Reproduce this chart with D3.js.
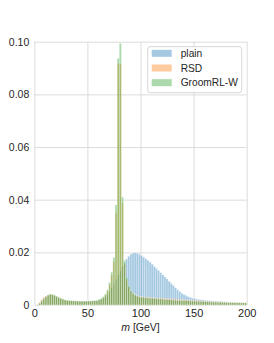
<!DOCTYPE html>
<html>
<head>
<meta charset="utf-8">
<script src="https://cdn.jsdelivr.net/npm/d3@7"></script>
<style>
  html, body { margin: 0; padding: 0; background: #fff; }
  svg text { font-family: "Liberation Sans", Arial, sans-serif; }
</style>
</head>
<body>
<div id="chart"></div>
<script>
// bin edges: 0..200 GeV in 2 GeV steps (100 bins)
var binWidth = 2;

var plain = [
  0.0000, 0.0002, 0.0008, 0.0018, 0.0027, 0.0033, 0.0037, 0.0039, 0.0038, 0.0035,
  0.0031, 0.0027, 0.0024, 0.0021, 0.0019, 0.0017, 0.0016, 0.0016, 0.0015, 0.0015,
  0.0015, 0.0015, 0.0014, 0.0014, 0.0015, 0.0015, 0.0015, 0.0016, 0.0016, 0.0017,
  0.0018, 0.0021, 0.0025, 0.0031, 0.0040, 0.0052, 0.0066, 0.0082, 0.0098, 0.0115,
  0.0130, 0.0146, 0.0160, 0.0175, 0.0185, 0.0193, 0.0197, 0.0198, 0.0197, 0.0193,
  0.0188, 0.0182, 0.0176, 0.0170, 0.0163, 0.0155, 0.0147, 0.0139, 0.0131, 0.0123,
  0.0115, 0.0107, 0.0099, 0.0090, 0.0082, 0.0074, 0.0066, 0.0058, 0.0051, 0.0045,
  0.0040, 0.0036, 0.0032, 0.0029, 0.0026, 0.0024, 0.0022, 0.0021, 0.0020, 0.0019,
  0.0018, 0.0017, 0.0017, 0.0016, 0.0015, 0.0015, 0.0014, 0.0014, 0.0013, 0.0013,
  0.0012, 0.0012, 0.0011, 0.0011, 0.0010, 0.0010, 0.0009, 0.0009, 0.0008, 0.0007
];

var rsd = [
  0.0001, 0.0003, 0.0010, 0.0020, 0.0028, 0.0034, 0.0038, 0.0040, 0.0039, 0.0036,
  0.0032, 0.0028, 0.0025, 0.0022, 0.0019, 0.0017, 0.0016, 0.0016, 0.0015, 0.0015,
  0.0015, 0.0014, 0.0014, 0.0014, 0.0014, 0.0014, 0.0014, 0.0015, 0.0015, 0.0016,
  0.0019, 0.0022, 0.0028, 0.0037, 0.0052, 0.0077, 0.0113, 0.0165, 0.0350, 0.0917,
  0.0915, 0.0387, 0.0155, 0.0095, 0.0068, 0.0052, 0.0044, 0.0038, 0.0035, 0.0033,
  0.0032, 0.0031, 0.0030, 0.0030, 0.0029, 0.0028, 0.0027, 0.0027, 0.0026, 0.0026,
  0.0026, 0.0025, 0.0024, 0.0024, 0.0023, 0.0023, 0.0022, 0.0021, 0.0021, 0.0020,
  0.0020, 0.0019, 0.0019, 0.0018, 0.0018, 0.0017, 0.0017, 0.0016, 0.0016, 0.0015,
  0.0015, 0.0014, 0.0014, 0.0013, 0.0013, 0.0013, 0.0012, 0.0012, 0.0011, 0.0011,
  0.0011, 0.0010, 0.0010, 0.0010, 0.0010, 0.0009, 0.0009, 0.0009, 0.0009, 0.0009
];

var groom = [
  0.0000, 0.0001, 0.0005, 0.0013, 0.0022, 0.0031, 0.0038, 0.0042, 0.0041, 0.0038,
  0.0034, 0.0030, 0.0026, 0.0023, 0.0020, 0.0018, 0.0017, 0.0017, 0.0016, 0.0016,
  0.0015, 0.0015, 0.0015, 0.0015, 0.0015, 0.0015, 0.0016, 0.0016, 0.0017, 0.0018,
  0.0022, 0.0026, 0.0032, 0.0042, 0.0058, 0.0085, 0.0125, 0.0180, 0.0380, 0.0937,
  0.0994, 0.0410, 0.0170, 0.0105, 0.0072, 0.0055, 0.0045, 0.0038, 0.0034, 0.0031,
  0.0030, 0.0029, 0.0028, 0.0027, 0.0026, 0.0026, 0.0025, 0.0024, 0.0023, 0.0023,
  0.0022, 0.0021, 0.0021, 0.0020, 0.0019, 0.0019, 0.0018, 0.0018, 0.0017, 0.0017,
  0.0017, 0.0016, 0.0016, 0.0015, 0.0015, 0.0015, 0.0014, 0.0014, 0.0013, 0.0013,
  0.0013, 0.0012, 0.0012, 0.0011, 0.0011, 0.0011, 0.0010, 0.0010, 0.0010, 0.0010,
  0.0009, 0.0009, 0.0009, 0.0009, 0.0008, 0.0008, 0.0008, 0.0008, 0.0008, 0.0008
];

var seriesNames = ['plain', 'RSD', 'GroomRL-W'];
var seriesColors = ['#1f77b4', '#ff7f0e', '#2ca02c'];
var xTicks = [0, 50, 100, 150, 200];
var yTicks = [0, 0.02, 0.04, 0.06, 0.08, 0.10];
var yTickLabels = ['0', '0.02', '0.04', '0.06', '0.08', '0.10'];

var W = 274, H = 343;
var margin = { top: 41.7, right: 27.3, bottom: 38, left: 34.3 };
var width = W - margin.left - margin.right;
var height = H - margin.top - margin.bottom;

var svg = d3.select('#chart').append('svg')
  .attr('width', W).attr('height', H);
var g = svg.append('g')
  .attr('transform', 'translate(' + margin.left + ',' + margin.top + ')');

var x = d3.scaleLinear().domain([0, 200]).range([0, width]);
var y = d3.scaleLinear().domain([0, 0.10]).range([height, 0]);

// grid
g.append('g')
  .call(d3.axisBottom(x).tickValues(xTicks).tickSize(height).tickFormat(''))
  .call(function(s) {
    s.select('.domain').remove();
    s.selectAll('line').attr('stroke', '#d9d9d9').attr('stroke-width', 0.9);
  });
g.append('g')
  .call(d3.axisLeft(y).tickValues(yTicks).tickSize(-width).tickFormat(''))
  .call(function(s) {
    s.select('.domain').remove();
    s.selectAll('line').attr('stroke', '#d9d9d9').attr('stroke-width', 0.9);
  });

// histograms
[plain, rsd, groom].forEach(function(vals, si) {
  g.append('g').selectAll('rect')
    .data(vals)
    .enter().append('rect')
    .attr('x', function(d, i) { return x(i * binWidth); })
    .attr('width', function(d, i) { return x((i + 1) * binWidth) - x(i * binWidth); })
    .attr('y', function(d) { return y(d); })
    .attr('height', function(d) { return y(0) - y(d); })
    .attr('fill', seriesColors[si])
    .attr('fill-opacity', 0.4)
    .attr('stroke', '#fff')
    .attr('stroke-width', 0.5)
    .attr('stroke-opacity', 0.5);
});

// tick labels
g.append('g')
  .attr('transform', 'translate(0,' + height + ')')
  .call(d3.axisBottom(x).tickValues(xTicks).tickSize(0).tickPadding(4))
  .call(function(s) {
    s.select('.domain').remove();
    s.selectAll('text').attr('fill', '#262626').attr('font-size', 11)
      .attr('font-family', '"Liberation Sans", Arial, sans-serif');
  });
g.append('g')
  .call(d3.axisLeft(y).tickValues(yTicks).tickSize(0).tickPadding(5)
    .tickFormat(function(d, i) { return yTickLabels[i]; }))
  .call(function(s) {
    s.select('.domain').remove();
    s.selectAll('text').attr('fill', '#262626').attr('font-size', 10.5)
      .attr('font-family', '"Liberation Sans", Arial, sans-serif');
  });

// x label
var xl = svg.append('text')
  .attr('x', margin.left + width / 2)
  .attr('y', 330.5)
  .attr('text-anchor', 'middle')
  .attr('font-size', 10.5)
  .attr('fill', '#262626');
xl.append('tspan').attr('font-style', 'italic').text('m');
xl.append('tspan').text(' [GeV]');

// legend
var lg = svg.append('g').attr('transform', 'translate(147.7,46.7)');
lg.append('rect')
  .attr('width', 94).attr('height', 46)
  .attr('rx', 2.5)
  .attr('fill', '#fff').attr('fill-opacity', 0.8)
  .attr('stroke', '#cccccc').attr('stroke-width', 0.8);
seriesNames.forEach(function(name, i) {
  var row = lg.append('g').attr('transform', 'translate(0,' + (6.6 + i * 14.7) + ')');
  row.append('rect')
    .attr('x', 4).attr('y', -3.5).attr('width', 20).attr('height', 7)
    .attr('fill', seriesColors[i]).attr('fill-opacity', 0.4);
  row.append('text')
    .attr('x', 33).attr('y', 3.7)
    .attr('font-size', 10.2).attr('fill', '#262626')
    .text(name);
});
</script>
</body>
</html>
